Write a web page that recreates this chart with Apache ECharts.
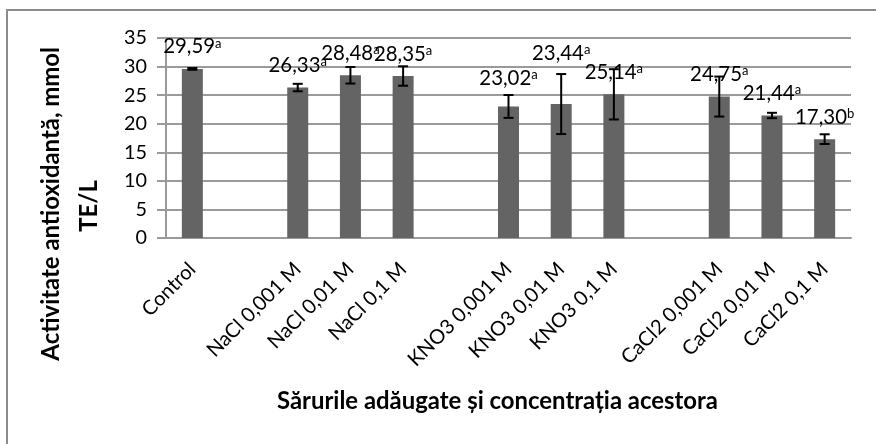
<!DOCTYPE html>
<html>
<head>
<meta charset="utf-8">
<script src="https://cdn.jsdelivr.net/npm/echarts@6/dist/echarts.min.js"></script>
<style>
  html, body { margin: 0; padding: 0; background: #fff; }
  #chart { width: 876px; height: 444px; }
</style>
</head>
<body>
<div id="chart"></div>
<script>
// Treatments, with blank slots separating the salt groups
const categories = [
  'Control', '',
  'NaCl 0,001 M', 'NaCl 0,01 M', 'NaCl 0,1 M', '',
  'KNO3 0,001 M', 'KNO3 0,01 M', 'KNO3 0,1 M', '',
  'CaCl2 0,001 M', 'CaCl2 0,01 M', 'CaCl2 0,1 M'
];
// Mean antioxidant activity, mmol TE/L
const means = [29.59, null, 26.33, 28.48, 28.35, null, 23.02, 23.44, 25.14, null, 24.75, 21.44, 17.30];
// Standard deviation for each mean
const errors = [0.15, null, 0.65, 1.45, 1.7, null, 2.0, 5.25, 4.4, null, 3.5, 0.47, 0.85];
// Significance letters
const letters = ['a', '', 'a', 'a', 'a', '', 'a', 'a', 'a', '', 'a', 'a', 'b'];
// Y axis ticks
const yTicks = [0, 5, 10, 15, 20, 25, 30, 35];

const yTitle = ['Activitate antioxidantă, mmol', 'TE/L'];
const xTitle = 'Sărurile adăugate și concentrația acestora';

const FONT = 'Lato, "Noto Sans", sans-serif';
const GRID_COLOR = '#9a9a9a';
const BAR_COLOR = '#646464';

// Pick a font size so that a sample string takes up a given width
const measureCtx = document.createElement('canvas').getContext('2d');
function fitSize(sample, width, weight) {
  measureCtx.font = (weight || 'normal') + ' 100px ' + FONT;
  return Math.round(100 * width / measureCtx.measureText(sample).width * 10) / 10;
}
const AXIS_LABEL_SIZE = fitSize('NaCl 0,001 M', 124);
const NUMBER_SIZE = fitSize('29,59', 52);
const TICK_SIZE = fitSize('35', 23);
const TITLE_SIZE = fitSize(yTitle[0], 314, 'bold');

// extra lift (px) for labels that sit above tall error bars
const labelLift = { 6: 6, 7: 29 };

const fmt = v => v.toFixed(2).replace('.', ',');

const chart = echarts.init(document.getElementById('chart'), null, { renderer: 'canvas' });

const barData = means.map((v, i) => {
  if (v === null) return null;
  return {
    value: v,
    label: {
      show: true,
      position: 'top',
      distance: 12 + (labelLift[i] || 0),
      formatter: '{v|' + fmt(v) + '}{s|' + letters[i] + '}'
    }
  };
});

const option = {
  animation: false,
  backgroundColor: '#fff',
  grid: { left: 166, right: 25, top: 38, bottom: 206, containLabel: false },
  xAxis: {
    type: 'category',
    data: categories,
    axisLine: { show: true, lineStyle: { color: GRID_COLOR, width: 2 } },
    axisTick: { show: false },
    axisLabel: {
      interval: 0,
      rotate: 45,
      margin: 28,
      fontFamily: FONT,
      fontSize: AXIS_LABEL_SIZE,
      color: '#000'
    }
  },
  yAxis: {
    type: 'value',
    min: yTicks[0],
    max: yTicks[yTicks.length - 1],
    interval: 5,
    axisLine: { show: true, lineStyle: { color: GRID_COLOR, width: 2 } },
    axisTick: { show: true, length: 9, lineStyle: { color: GRID_COLOR, width: 2 } },
    splitLine: { show: true, lineStyle: { color: GRID_COLOR, width: 2 } },
    axisLabel: {
      margin: 19,
      fontFamily: FONT,
      fontSize: TICK_SIZE,
      color: '#000'
    }
  },
  series: [
    {
      type: 'bar',
      data: barData,
      barWidth: 21,
      itemStyle: { color: BAR_COLOR },
      label: {
        color: '#000',
        fontFamily: FONT,
        rich: {
          v: { fontFamily: FONT, fontSize: NUMBER_SIZE, color: '#000', lineHeight: 20 },
          s: { fontFamily: FONT, fontSize: 13, color: '#000', lineHeight: 13, verticalAlign: 'top' }
        }
      },
      z: 2
    },
    {
      type: 'custom',
      z: 5,
      data: means.map((v, i) => (v === null ? [i, null, null] : [i, v, errors[i]])),
      encode: { x: 0, y: 1 },
      renderItem: function (params, api) {
        const m = api.value(1);
        const e = api.value(2);
        if (m === null || isNaN(m)) return;
        const top = api.coord([api.value(0), m + e]);
        const bot = api.coord([api.value(0), m - e]);
        const half = 5;
        const style = { stroke: '#000', lineWidth: 2 };
        return {
          type: 'group',
          children: [
            { type: 'line', shape: { x1: top[0], y1: top[1], x2: bot[0], y2: bot[1] }, style },
            { type: 'line', shape: { x1: top[0] - half, y1: top[1], x2: top[0] + half, y2: top[1] }, style },
            { type: 'line', shape: { x1: bot[0] - half, y1: bot[1], x2: bot[0] + half, y2: bot[1] }, style }
          ]
        };
      }
    }
  ],
  graphic: [
    {
      type: 'rect',
      shape: { x: 7, y: 10, width: 1000, height: 1000 },
      style: { fill: 'none', stroke: '#8c8c8c', lineWidth: 2 },
      silent: true
    },
    {
      type: 'text',
      x: 51, y: 47,
      rotation: Math.PI / 2,
      style: {
        text: yTitle[0],
        font: 'bold ' + TITLE_SIZE + 'px ' + FONT,
        fill: '#000',
        align: 'right',
        verticalAlign: 'middle'
      }
    },
    {
      type: 'text',
      x: 89, y: 206,
      rotation: Math.PI / 2,
      style: {
        text: yTitle[1],
        font: 'bold ' + TITLE_SIZE + 'px ' + FONT,
        fill: '#000',
        align: 'center',
        verticalAlign: 'middle'
      }
    },
    {
      type: 'text',
      x: 277, y: 401,
      style: {
        text: xTitle,
        font: 'bold ' + TITLE_SIZE + 'px ' + FONT,
        fill: '#000',
        align: 'left',
        verticalAlign: 'middle'
      }
    }
  ]
};

chart.setOption(option);
</script>
</body>
</html>
